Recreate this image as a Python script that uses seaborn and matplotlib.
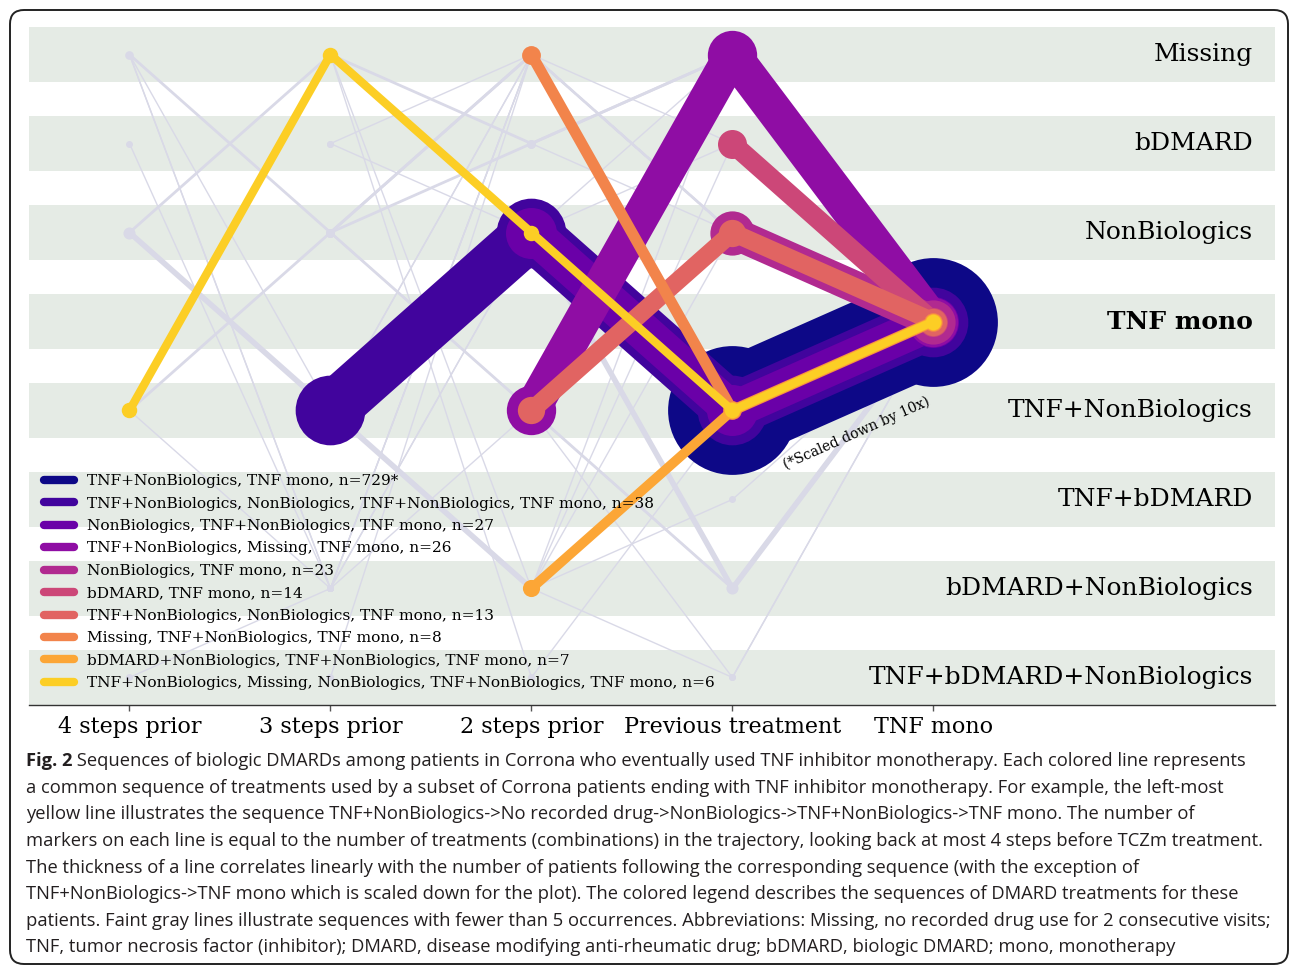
import numpy as np
import pandas as pd
import matplotlib
matplotlib.use('Agg')
import matplotlib.pyplot as plt
from matplotlib.lines import Line2D
from matplotlib.patches import FancyBboxPatch
from matplotlib.transforms import IdentityTransform
import seaborn as sns

# axis categories
steps = ['4 steps prior', '3 steps prior', '2 steps prior', 'Previous treatment', 'TNF mono']
categories = ['Missing', 'bDMARD', 'NonBiologics', 'TNF mono', 'TNF+NonBiologics',
              'TNF+bDMARD', 'bDMARD+NonBiologics', 'TNF+bDMARD+NonBiologics']

# common sequences (oldest treatment first, all end with TNF mono)
seq_paths = [
    ['TNF+NonBiologics', 'TNF mono'],
    ['TNF+NonBiologics', 'NonBiologics', 'TNF+NonBiologics', 'TNF mono'],
    ['NonBiologics', 'TNF+NonBiologics', 'TNF mono'],
    ['TNF+NonBiologics', 'Missing', 'TNF mono'],
    ['NonBiologics', 'TNF mono'],
    ['bDMARD', 'TNF mono'],
    ['TNF+NonBiologics', 'NonBiologics', 'TNF mono'],
    ['Missing', 'TNF+NonBiologics', 'TNF mono'],
    ['bDMARD+NonBiologics', 'TNF+NonBiologics', 'TNF mono'],
    ['TNF+NonBiologics', 'Missing', 'NonBiologics', 'TNF+NonBiologics', 'TNF mono'],
]
seq_counts = [729, 38, 27, 26, 23, 14, 13, 8, 7, 6]
seq_scale = [10, 1, 1, 1, 1, 1, 1, 1, 1, 1]

# rare sequences (< 5 occurrences), faint gray
rare_paths = [
    ['NonBiologics', 'TNF+NonBiologics', 'bDMARD+NonBiologics', 'TNF+NonBiologics', 'TNF mono'],
    ['NonBiologics', 'bDMARD+NonBiologics', 'TNF mono'],
    ['NonBiologics', 'Missing', 'TNF+NonBiologics', 'TNF mono'],
    ['Missing', 'NonBiologics', 'Missing', 'NonBiologics', 'TNF mono'],
    ['NonBiologics', 'Missing', 'bDMARD', 'Missing', 'TNF mono'],
    ['TNF+NonBiologics', 'Missing', 'NonBiologics', 'TNF mono'],
    ['bDMARD+NonBiologics', 'Missing', 'NonBiologics', 'TNF mono'],
    ['TNF+bDMARD+NonBiologics', 'Missing', 'bDMARD', 'TNF mono'],
    ['bDMARD', 'Missing', 'TNF+NonBiologics', 'TNF mono'],
    ['bDMARD', 'NonBiologics', 'TNF+NonBiologics', 'TNF mono'],
    ['NonBiologics', 'bDMARD', 'Missing', 'TNF mono'],
    ['TNF+NonBiologics', 'NonBiologics', 'TNF+NonBiologics', 'bDMARD+NonBiologics', 'TNF mono'],
    ['TNF+NonBiologics', 'bDMARD+NonBiologics', 'NonBiologics', 'bDMARD', 'TNF mono'],
    ['TNF+bDMARD+NonBiologics', 'bDMARD+NonBiologics', 'Missing', 'NonBiologics', 'TNF mono'],
    ['Missing', 'TNF+NonBiologics', 'Missing', 'TNF+NonBiologics', 'TNF mono'],
    ['Missing', 'TNF+bDMARD+NonBiologics', 'TNF+NonBiologics', 'TNF mono'],
    ['bDMARD+NonBiologics', 'TNF+bDMARD', 'TNF mono'],
    ['bDMARD+NonBiologics', 'TNF+bDMARD+NonBiologics', 'TNF mono'],
    ['bDMARD+NonBiologics', 'bDMARD', 'TNF mono'],
    ['TNF+NonBiologics', 'bDMARD+NonBiologics', 'NonBiologics', 'TNF mono'],
    ['bDMARD', 'bDMARD+NonBiologics', 'Missing', 'TNF+NonBiologics', 'TNF mono'],
    ['Missing', 'bDMARD+NonBiologics', 'TNF+NonBiologics', 'bDMARD+NonBiologics', 'TNF mono'],
    ['Missing', 'bDMARD+NonBiologics', 'NonBiologics', 'Missing', 'TNF mono'],
    ['bDMARD', 'NonBiologics', 'TNF mono'],
    ['NonBiologics', 'TNF+NonBiologics', 'TNF+bDMARD+NonBiologics', 'TNF mono'],
    ['Missing', 'bDMARD+NonBiologics', 'Missing', 'TNF mono'],
]
rare_counts = [4, 4, 2, 2, 2, 1, 1, 1, 1, 1, 2, 2, 1, 1, 1, 1, 1, 1, 1, 1, 1, 1, 1, 1, 1, 1]

caption_lines = [
    " Sequences of biologic DMARDs among patients in Corrona who eventually used TNF inhibitor monotherapy. Each colored line represents",
    "a common sequence of treatments used by a subset of Corrona patients ending with TNF inhibitor monotherapy. For example, the left-most",
    "yellow line illustrates the sequence TNF+NonBiologics->No recorded drug->NonBiologics->TNF+NonBiologics->TNF mono. The number of",
    "markers on each line is equal to the number of treatments (combinations) in the trajectory, looking back at most 4 steps before TCZm treatment.",
    "The thickness of a line correlates linearly with the number of patients following the corresponding sequence (with the exception of",
    "TNF+NonBiologics->TNF mono which is scaled down for the plot). The colored legend describes the sequences of DMARD treatments for these",
    "patients. Faint gray lines illustrate sequences with fewer than 5 occurrences. Abbreviations: Missing, no recorded drug use for 2 consecutive visits;",
    "TNF, tumor necrosis factor (inhibitor); DMARD, disease modifying anti-rheumatic drug; bDMARD, biologic DMARD; mono, monotherapy",
]

sns.set_style('white')
plt.rcParams['font.family'] = ['DejaVu Serif']
plt.rcParams['text.color'] = 'black'
plt.rcParams['xtick.color'] = '#555555'
plt.rcParams['xtick.labelcolor'] = 'black'

cat_idx = {c: i for i, c in enumerate(categories)}
colors = plt.cm.plasma(np.linspace(0, 0.9, len(seq_paths)))
gray = '#d9d9e7'
band = '#e5ebe5'

fig = plt.figure(figsize=(12.9, 9.66), dpi=100)
ax = fig.add_axes([29 / 1290, 1 - 705 / 966, 1246 / 1290, 678 / 966])

for i in range(len(categories)):
    ax.axhspan(i - 0.31, i + 0.31, color=band, lw=0, zorder=0)


def draw_path(path, width, color, z):
    k = len(path)
    df = pd.DataFrame({'step': list(range(len(steps) - k, len(steps))),
                       'cat': [cat_idx[c] for c in path]})
    sns.lineplot(data=df, x='step', y='cat', sort=False, estimator=None, ax=ax,
                 color=color, linewidth=width, marker='o',
                 markersize=1.22 * width + 3.8, markeredgewidth=0,
                 solid_capstyle='round', legend=False, zorder=z)


for path, n in zip(rare_paths, rare_counts):
    draw_path(path, n, gray, 1)

for j, (path, n, s) in enumerate(zip(seq_paths, seq_counts, seq_scale)):
    draw_path(path, n / s, colors[j], 2 + j * 0.01)

# category labels on the right
for i, c in enumerate(categories):
    ax.text(5.59, i, c, ha='right', va='center', fontsize=18.0, color='black',
            fontweight='bold' if c == 'TNF mono' else 'normal', zorder=6)

ax.text(3.62, 4.25, '(*Scaled down by 10x)', rotation=24, rotation_mode='anchor',
        ha='center', va='center', fontsize=10, color='black', zorder=6)

handles = [Line2D([0], [0], color=colors[j], lw=6, solid_capstyle='round')
           for j in range(len(seq_paths))]
labels = []
for path, n, s in zip(seq_paths, seq_counts, seq_scale):
    labels.append(', '.join(path) + f', n={n}' + ('*' if s != 1 else ''))
leg = ax.legend(handles, labels, loc='lower left', frameon=False, fontsize=11.1,
                handlelength=2.0, labelspacing=0.55, borderaxespad=0.55)
for t in leg.get_texts():
    t.set_color('black')

ax.set_xlim(-0.5, 5.7)
ax.set_ylim(len(categories) - 1 + 0.31, -0.31)
ax.set_xticks(range(len(steps)))
ax.set_xticklabels(steps, fontsize=16)
ax.set_yticks([])
ax.set_xlabel('')
ax.set_ylabel('')
ax.tick_params(axis='x', length=4, width=1, color='#555555', labelcolor='black', pad=4, bottom=True)
for side in ['top', 'left', 'right']:
    ax.spines[side].set_visible(False)
ax.spines['bottom'].set_color('#333333')
ax.spines['bottom'].set_linewidth(1.0)

# caption
cap_y = [761, 788, 814, 841, 868, 894, 921, 947]
cap_font = dict(family='Open Sans', fontsize=13.2, color='#231f20', va='center')
t0 = fig.text(26 / 1290, 1 - cap_y[0] / 966, 'Fig. 2', fontweight='bold', **cap_font)
ax.annotate(caption_lines[0], xy=(1, 0.5), xycoords=t0, ha='left',
            annotation_clip=False, **cap_font)
for line, y in zip(caption_lines[1:], cap_y[1:]):
    fig.text(26 / 1290, 1 - y / 966, line, **cap_font)

frame = FancyBboxPatch((10, 2), 1278, 954, boxstyle='round,pad=0,rounding_size=14',
                       transform=IdentityTransform(), fill=False, ec='#222222', lw=1.4)
fig.patches.append(frame)

fig.savefig('out.png', dpi=100)
